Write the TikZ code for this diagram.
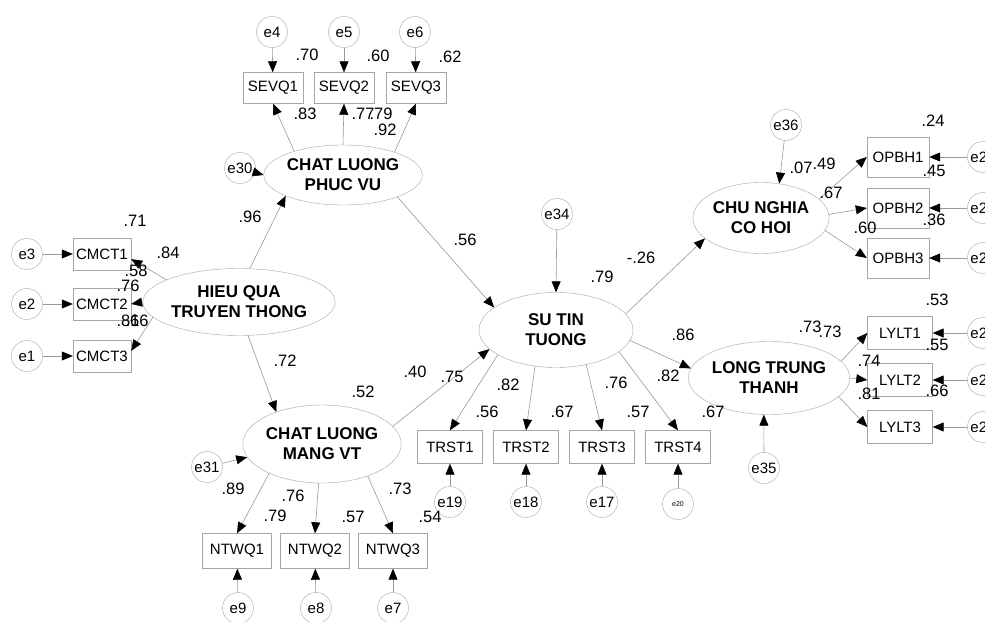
\documentclass[tikz,border=0pt]{standalone}
\usepackage{fontspec}
\setmainfont{Liberation Sans}
\usetikzlibrary{shapes.geometric,arrows.meta}

\begin{document}
\begin{tikzpicture}[x=1pt,y=-1pt,
    lat/.style={ellipse,draw=gray!70,inner sep=0pt,align=center,font=\fontsize{17}{20}\selectfont\bfseries},
    obs/.style={rectangle,draw=gray!70,inner sep=0pt,font=\fontsize{15}{17}\selectfont},
    err/.style={circle,draw=gray!70,minimum size=31pt,inner sep=0pt,font=\fontsize{15}{17}\selectfont},
    est/.style={inner sep=0pt,font=\fontsize{16.5}{18}\selectfont},
    arr/.style={draw=gray!80,line width=0.6pt,-{Triangle[length=11pt,width=9pt,color=black]}}]
    \useasboundingbox (0,0) rectangle (985,621);
    \fill[white] (0,0) rectangle (985,621);

    % latent variables
    \node[lat,minimum width=134pt,minimum height=60pt] (CLPV) at (343,175) {CHAT LUONG\\PHUC VU};
    \node[lat,minimum width=158pt,minimum height=67pt] (HQTT) at (239,302) {HIEU QUA\\TRUYEN THONG};
    \node[lat,minimum width=140pt,minimum height=78pt] (CLMV) at (322,444) {CHAT LUONG\\MANG VT};
    \node[lat,minimum width=154pt,minimum height=75pt] (STT) at (556,330) {SU TIN\\TUONG};
    \node[lat,minimum width=134pt,minimum height=71pt] (CNCH) at (761,218) {CHU NGHIA\\CO HOI};
    \node[lat,minimum width=142pt,minimum height=73pt] (LTT) at (769,378) {LONG TRUNG\\THANH};

    % observed variables
    \node[obs,minimum width=60pt,minimum height=31pt] (SEVQ1) at (273,88) {SEVQ1};
    \node[obs,minimum width=60pt,minimum height=31pt] (SEVQ2) at (344,88) {SEVQ2};
    \node[obs,minimum width=60pt,minimum height=31pt] (SEVQ3) at (416,88) {SEVQ3};
    \node[obs,minimum width=58pt,minimum height=32pt] (CMCT1) at (102,254) {CMCT1};
    \node[obs,minimum width=58pt,minimum height=32pt] (CMCT2) at (102,304) {CMCT2};
    \node[obs,minimum width=58pt,minimum height=32pt] (CMCT3) at (102,356) {CMCT3};
    \node[obs,minimum width=69pt,minimum height=35pt] (NTWQ1) at (237,551) {NTWQ1};
    \node[obs,minimum width=69pt,minimum height=35pt] (NTWQ2) at (315,551) {NTWQ2};
    \node[obs,minimum width=69pt,minimum height=35pt] (NTWQ3) at (393,551) {NTWQ3};
    \node[obs,minimum width=65pt,minimum height=33pt] (TRST1) at (450,447) {TRST1};
    \node[obs,minimum width=65pt,minimum height=33pt] (TRST2) at (526,447) {TRST2};
    \node[obs,minimum width=65pt,minimum height=33pt] (TRST3) at (602,447) {TRST3};
    \node[obs,minimum width=65pt,minimum height=33pt] (TRST4) at (678,447) {TRST4};
    \node[obs,minimum width=62pt,minimum height=40pt] (OPBH1) at (898,157) {OPBH1};
    \node[obs,minimum width=62pt,minimum height=40pt] (OPBH2) at (898,208) {OPBH2};
    \node[obs,minimum width=62pt,minimum height=40pt] (OPBH3) at (898,258) {OPBH3};
    \node[obs,minimum width=65pt,minimum height=33pt] (LYLT1) at (900,333) {LYLT1};
    \node[obs,minimum width=65pt,minimum height=33pt] (LYLT2) at (900,380) {LYLT2};
    \node[obs,minimum width=65pt,minimum height=33pt] (LYLT3) at (900,427) {LYLT3};

    % error terms
    \node[err] (e4) at (272,32) {e4};
    \node[err] (e5) at (344,32) {e5};
    \node[err] (e6) at (415,32) {e6};
    \node[err] (e30) at (240,168) {e30};
    \node[err] (e3) at (27,254) {e3};
    \node[err] (e2) at (27,304) {e2};
    \node[err] (e1) at (27,356) {e1};
    \node[err] (e31) at (207,467) {e31};
    \node[err] (e9) at (238,608) {e9};
    \node[err] (e8) at (316,608) {e8};
    \node[err] (e7) at (393,608) {e7};
    \node[err] (e34) at (557,214) {e34};
    \node[err] (e19) at (450,502) {e19};
    \node[err] (e18) at (526,502) {e18};
    \node[err] (e17) at (602,502) {e17};
    \node[err,font=\fontsize{7}{8}\selectfont] (e20) at (678,504) {e20};
    \node[err] (e36) at (786,125) {e36};
    \node[err] (e35) at (764,468) {e35};
    \node[err] (eR1) at (983,157) {e2\phantom{0}};
    \node[err] (eR2) at (983,208) {e2\phantom{0}};
    \node[err] (eR3) at (983,258) {e2\phantom{0}};
    \node[err] (eR4) at (983,333) {e2\phantom{0}};
    \node[err] (eR5) at (983,380) {e2\phantom{0}};
    \node[err] (eR6) at (983,427) {e2\phantom{0}};

    % structural paths
    \draw[arr] (HQTT.72) -- (CLPV.200);
    \draw[arr] (HQTT.-75) -- (CLMV.145);
    \draw[arr] (CLPV.-22) -- (STT.160);
    \draw[arr] (CLMV.14) -- (STT.196);
    \draw[arr] (STT.13) -- (CNCH.200);
    \draw[arr] (STT.-8) -- (LTT.173);

    % loadings
    \draw[arr] (CLPV.154) -- (SEVQ1.south);
    \draw[arr] (CLPV.north) -- (SEVQ2.south);
    \draw[arr] (CLPV.24) -- (SEVQ3.south);
    \draw[arr] (HQTT.163) -- (CMCT1.-10);
    \draw[arr] (HQTT.180) -- (CMCT2.east);
    \draw[arr] (HQTT.190) -- (CMCT3.10);
    \draw[arr] (CLMV.209) -- (NTWQ1.north);
    \draw[arr] (CLMV.265) -- (NTWQ2.north);
    \draw[arr] (CLMV.-35) -- (NTWQ3.north);
    \draw[arr] (STT.203) -- (TRST1.north);
    \draw[arr] (STT.240) -- (TRST2.north);
    \draw[arr] (STT.-49) -- (TRST3.north);
    \draw[arr] (STT.-19) -- (TRST4.north);
    \draw[arr] (CNCH.18) -- (OPBH1.west);
    \draw[arr] (CNCH.3) -- (OPBH2.west);
    \draw[arr] (CNCH.-11) -- (OPBH3.west);
    \draw[arr] (LTT.13) -- (LYLT1.west);
    \draw[arr] (LTT.0) -- (LYLT2.west);
    \draw[arr] (LTT.-15) -- (LYLT3.west);

    % errors
    \draw[arr] (e4) -- (SEVQ1);
    \draw[arr] (e5) -- (SEVQ2);
    \draw[arr] (e6) -- (SEVQ3);
    \draw[arr] (e30) -- (CLPV.180);
    \draw[arr] (e3) -- (CMCT1);
    \draw[arr] (e2) -- (CMCT2);
    \draw[arr] (e1) -- (CMCT3);
    \draw[arr] (e31) -- (CLMV.190);
    \draw[arr] (e9) -- (NTWQ1);
    \draw[arr] (e8) -- (NTWQ2);
    \draw[arr] (e7) -- (NTWQ3);
    \draw[arr] (e34) -- (STT.north);
    \draw[arr] (e19) -- (TRST1);
    \draw[arr] (e18) -- (TRST2);
    \draw[arr] (e17) -- (TRST3);
    \draw[arr] (e20) -- (TRST4);
    \draw[arr] (e36) -- (CNCH.62);
    \draw[arr] (e35) -- (LTT.-98);
    \draw[arr] (eR1) -- (OPBH1);
    \draw[arr] (eR2) -- (OPBH2);
    \draw[arr] (eR3) -- (OPBH3);
    \draw[arr] (eR4) -- (LYLT1);
    \draw[arr] (eR5) -- (LYLT2);
    \draw[arr] (eR6) -- (LYLT3);

    % estimates
    \node[est] (s1) at (307,55) {.70};
    \node[est] (s2) at (378,56) {.60};
    \node[est] (s3) at (450,57) {.62};
    \node[est] (s4) at (305,114) {.83};
    \node[est] (s5) at (363,114) {.77};
    \node[est] (s6) at (381,114) {.79};
    \node[est] (s7) at (385,130) {.92};
    \node[est] (h1) at (135,221) {.71};
    \node[est] (h2) at (168,253) {.84};
    \node[est] (h3) at (136,271) {.58};
    \node[est] (h4) at (128,286) {.76};
    \node[est] (h5) at (128,321) {.81};
    \node[est] (h6) at (137,321) {.66};
    \node[est] (h7) at (250,217) {.96};
    \node[est] (h8) at (285,361) {.72};
    \node[est] (m1) at (363,392) {.52};
    \node[est] (m2) at (415,372) {.40};
    \node[est] (m3) at (452,377) {.75};
    \node[est] (m4) at (233,489) {.89};
    \node[est] (m5) at (293,496) {.76};
    \node[est] (m6) at (275,516) {.79};
    \node[est] (m7) at (353,517) {.57};
    \node[est] (m8) at (400,489) {.73};
    \node[est] (m9) at (430,517) {.54};
    \node[est] (t1) at (465,240) {.56};
    \node[est] (t2) at (641,258) {-.26};
    \node[est] (t3) at (602,277) {.79};
    \node[est] (t4) at (683,335) {.86};
    \node[est] (t5) at (508,385) {.82};
    \node[est] (t6) at (616,383) {.76};
    \node[est] (t7) at (668,376) {.82};
    \node[est] (t8) at (487,412) {.56};
    \node[est] (t9) at (562,412) {.67};
    \node[est] (t10) at (638,412) {.57};
    \node[est] (t11) at (713,412) {.67};
    \node[est] (c1) at (933,121) {.24};
    \node[est] (c2) at (801,168) {.07};
    \node[est] (c3) at (824,164) {.49};
    \node[est] (c4) at (934,171) {.45};
    \node[est] (c5) at (831,193) {.67};
    \node[est] (c6) at (934,220) {.36};
    \node[est] (c7) at (865,228) {.60};
    \node[est] (l1) at (937,300) {.53};
    \node[est] (l2) at (810,327) {.73};
    \node[est] (l3) at (830,332) {.73};
    \node[est] (l4) at (937,345) {.55};
    \node[est] (l5) at (869,361) {.74};
    \node[est] (l6) at (937,391) {.66};
    \node[est] (l7) at (869,394) {.81};
\end{tikzpicture}
\end{document}
